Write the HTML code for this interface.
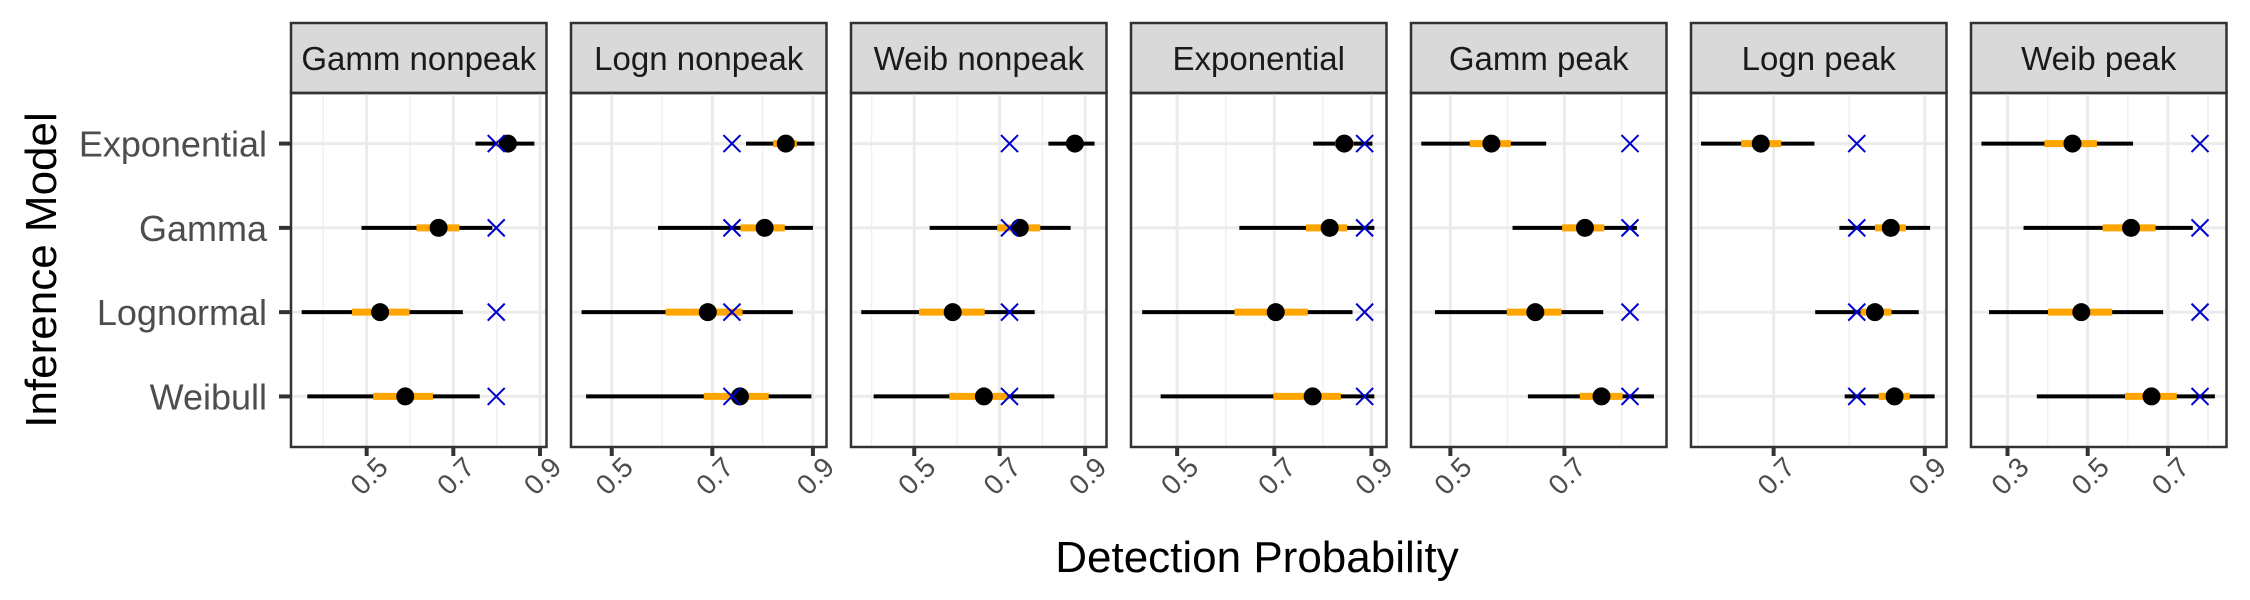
<!DOCTYPE html>
<html><head><meta charset="utf-8">
<style>
html,body{margin:0;padding:0;background:#fff;}
svg{display:block;font-family:"Liberation Sans",Arial,sans-serif;}
</style></head>
<body>
<svg id="chart" width="2250" height="600" viewBox="0 0 2250 600" xmlns="http://www.w3.org/2000/svg">
<rect x="0" y="0" width="2250" height="600" fill="#fff"/>
</svg>
<script>
const panels = ["Gamm nonpeak","Logn nonpeak","Weib nonpeak","Exponential","Gamm peak","Logn peak","Weib peak"];
const models = ["Exponential","Gamma","Lognormal","Weibull"];
const domains = [[0.3254,0.915],[0.419,0.927],[0.352,0.950],[0.405,0.931],[0.431,0.879],[0.5907,0.9287],[0.209,0.846]];
const ticks = [[0.5,0.7,0.9],[0.5,0.7,0.9],[0.5,0.7,0.9],[0.5,0.7,0.9],[0.5,0.7],[0.7,0.9],[0.3,0.5,0.7]];
const tickLabels = [["0.5","0.7","0.9"],["0.5","0.7","0.9"],["0.5","0.7","0.9"],["0.5","0.7","0.9"],["0.5","0.7"],["0.7","0.9"],["0.3","0.5","0.7"]];
const minorTicks = [[0.4,0.6,0.8],[0.6,0.8],[0.4,0.6,0.8],[0.6,0.8],[0.6,0.8],[0.6,0.8],[0.4,0.6,0.8]];
// rows: Exponential, Gamma, Lognormal, Weibull
const lo95 = [[0.751,0.488,0.350,0.363],[0.767,0.592,0.440,0.449],[0.814,0.536,0.376,0.405],[0.780,0.628,0.428,0.466],[0.449,0.609,0.473,0.636],[0.604,0.787,0.755,0.794],[0.235,0.340,0.254,0.373]];
const hi95 = [[0.887,0.790,0.722,0.761],[0.903,0.900,0.860,0.897],[0.922,0.866,0.782,0.828],[0.902,0.906,0.861,0.906],[0.668,0.827,0.768,0.857],[0.754,0.907,0.892,0.913],[0.613,0.762,0.688,0.817]];
const lo50 = [[0.800,0.615,0.466,0.515],[0.821,0.756,0.607,0.683],[0.862,0.694,0.511,0.582],[0.825,0.765,0.618,0.698],[0.534,0.696,0.599,0.727],[0.657,0.834,0.815,0.839],[0.392,0.537,0.401,0.593]];
const hi50 = [[0.845,0.714,0.599,0.653],[0.868,0.844,0.760,0.812],[0.888,0.795,0.665,0.718],[0.863,0.850,0.769,0.837],[0.606,0.770,0.695,0.802],[0.710,0.875,0.856,0.880],[0.523,0.669,0.561,0.722]];
const medians = [[0.826,0.666,0.531,0.589],[0.846,0.804,0.691,0.755],[0.876,0.747,0.590,0.663],[0.844,0.814,0.703,0.779],[0.572,0.736,0.649,0.765],[0.683,0.855,0.834,0.860],[0.462,0.608,0.484,0.659]];
const truth = [0.799,0.739,0.723,0.886,0.815,0.810,0.780];

const NS="http://www.w3.org/2000/svg";
const svg=document.getElementById('chart');
function mk(tag,attrs,parent){const e=document.createElementNS(NS,tag);for(const k in attrs)e.setAttribute(k,attrs[k]);(parent||svg).appendChild(e);return e;}
const P0=291, PITCH=280, PW=255.5, TOP=93, BOT=447, STRIP=23;
function yRow(i){return TOP+(BOT-TOP)*(0.6+i)/4.2;}

const yax=mk('g',{});


models.forEach((m,i)=>{
  const y=yRow(i);
  const t=mk('text',{x:P0-24,y:y+13,'text-anchor':'end','font-size':36,fill:'#4d4d4d'},yax);
  t.textContent=m;
  
  
  const l=mk('line',{x1:P0-12,x2:P0,y1:y,y2:y,stroke:'#333','stroke-width':4},yax);
  
  
});
const yt=mk('text',{x:0,y:0,transform:'translate(56,270) rotate(-90)','text-anchor':'middle','font-size':44,fill:'#000'});
yt.textContent='Inference Model';


const xt=mk('text',{x:1257,y:572,'text-anchor':'middle','font-size':44,fill:'#000'});
xt.textContent='Detection Probability';



panels.forEach((name,p)=>{
  const L=P0+PITCH*p, R=L+PW, d=domains[p];
  const X=v=>L+(v-d[0])/(d[1]-d[0])*PW;
  const g=mk('g',{});
  
  
  const s=mk('rect',{x:L,y:STRIP,width:PW,height:TOP-STRIP,fill:'#d9d9d9',stroke:'#333','stroke-width':2.5},g);
  
  
  const st=mk('text',{x:L+PW/2,y:STRIP+(TOP-STRIP)/2+12,'text-anchor':'middle','font-size':33,fill:'#1a1a1a'},g);
  st.textContent=name;
  
  
  minorTicks[p].forEach(v=>{const l=mk('line',{x1:X(v),x2:X(v),y1:TOP,y2:BOT,stroke:'#f0f0f0','stroke-width':1.5},g);
    
    });
  ticks[p].forEach(v=>{const l=mk('line',{x1:X(v),x2:X(v),y1:TOP,y2:BOT,stroke:'#ebebeb','stroke-width':3},g);
    
    });
  models.forEach((m,i)=>{const l=mk('line',{x1:L,x2:R,y1:yRow(i),y2:yRow(i),stroke:'#ebebeb','stroke-width':3},g);
    
    });
  models.forEach((m,i)=>{
    const y=yRow(i);
    const a=mk('line',{x1:X(lo95[p][i]),x2:X(hi95[p][i]),y1:y,y2:y,stroke:'#000','stroke-width':4},g);
    
    
    const b=mk('line',{x1:X(lo50[p][i]),x2:X(hi50[p][i]),y1:y,y2:y,stroke:'#ffa500','stroke-width':7},g);
    
    
    const c=mk('circle',{cx:X(medians[p][i]),cy:y,r:9,fill:'#000'},g);
    
    
    const tx=X(truth[p]), h=8.5;
    const xm=mk('path',{d:`M${tx-h},${y-h}L${tx+h},${y+h}M${tx-h},${y+h}L${tx+h},${y-h}`,stroke:'#0000cd','stroke-width':2,fill:'none'},g);
    
    
  });
  const border=mk('rect',{x:L,y:TOP,width:PW,height:BOT-TOP,fill:'none',stroke:'#333','stroke-width':2.5},g);
  
  
  ticks[p].forEach((v,k)=>{
    const tl=mk('line',{x1:X(v),x2:X(v),y1:BOT,y2:BOT+9,stroke:'#333','stroke-width':4},g);
    
    
    const t=mk('text',{x:0,y:0,transform:`translate(${X(v)+23},${BOT+22}) rotate(-45)`,'text-anchor':'end','font-size':28,fill:'#4d4d4d'},g);
    t.textContent=tickLabels[p][k];
    
    
  });
});
</script>
</body></html>
